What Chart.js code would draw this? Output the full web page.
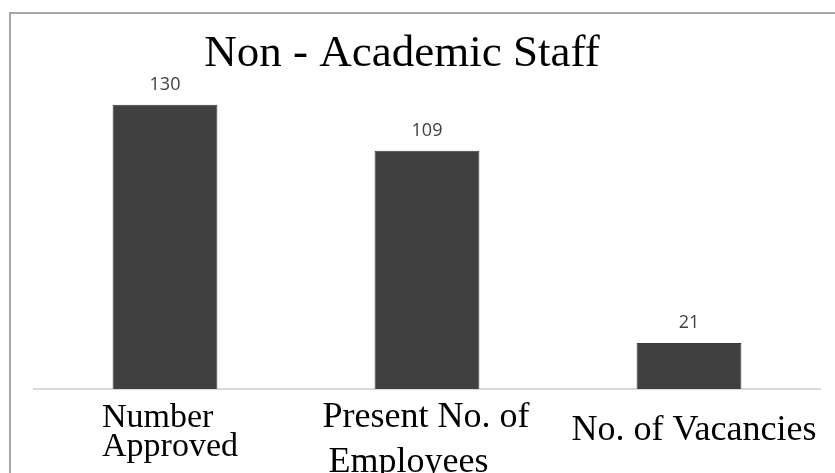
<!DOCTYPE html>
<html>
<head>
<meta charset="utf-8">
<script src="https://cdn.jsdelivr.net/npm/chart.js@4"></script>
<style>
  html, body { margin: 0; padding: 0; background: #fff; }
  #wrap { position: relative; width: 835px; height: 473px; overflow: hidden; }
  #frame {
    position: absolute; left: 9px; top: 12px; width: 900px; height: 500px;
    border-left: 2px solid #a6a6a6; border-top: 2px solid #a6a6a6;
  }
  canvas { position: absolute; left: 0; top: 0; }
</style>
</head>
<body>
<div id="wrap">
  <div id="frame"></div>
  <canvas id="barChart" width="835" height="473"></canvas>
</div>
<script>
const chartTitle = "Non - Academic Staff";
const categories = [["Number", "Approved"], ["Present No. of", "Employees"], ["No. of Vacancies"]];
const staffCounts = [130, 109, 21];
const yMax = 140;

// draws title, value labels and the category labels (left aligned lines, like the original)
const textPlugin = {
  id: "textPlugin",
  afterDatasetsDraw(chart) {
    const ctx = chart.ctx;
    const xScale = chart.scales.x;
    const meta = chart.getDatasetMeta(0);
    ctx.save();

    ctx.fillStyle = "#000";
    ctx.font = "45px 'Liberation Serif'";
    ctx.textAlign = "center";
    ctx.textBaseline = "alphabetic";
    ctx.fillText(chartTitle, 402, 66);

    ctx.font = "18px 'Open Sans'";
    ctx.fillStyle = "#404040";
    meta.data.forEach((bar, i) => {
      ctx.fillText(String(staffCounts[i]), bar.x, bar.y - 15);
    });

    const lineGap = [29, 45];
    const fontSize = [34, 36, 36];
    const shift = [5, -1, 5];
    ctx.fillStyle = "#000";
    ctx.textAlign = "left";
    categories.forEach((lines, i) => {
      ctx.font = fontSize[i] + "px 'Liberation Serif'";
      const cx = xScale.getPixelForTick(i) + shift[i];
      const w = Math.max(...lines.map(l => ctx.measureText(l).width));
      const left = cx - w / 2;
      let y = lines.length > 1 ? 427 : 440;
      lines.forEach((line, j) => {
        const off = (i === 1 && j === 1) ? 6 : 0;
        ctx.fillText(line, left + off, y);
        y += lineGap[i] || 30;
      });
    });
    ctx.restore();
  }
};

new Chart(document.getElementById("barChart"), {
  type: "bar",
  data: {
    labels: categories,
    datasets: [{
      data: staffCounts,
      backgroundColor: "#404040",
      borderColor: "#3a3a3a",
      borderWidth: 1,
      barPercentage: 0.4,
      categoryPercentage: 1
    }]
  },
  options: {
    responsive: false,
    animation: false,
    devicePixelRatio: 1,
    layout: { padding: { left: 34, right: 15, top: 83, bottom: 76 } },
    plugins: { legend: { display: false }, title: { display: false }, tooltip: { enabled: false } },
    scales: {
      x: {
        grid: { display: false },
        ticks: { display: false },
        border: { display: true, color: "#d9d9d9", width: 2 }
      },
      y: { display: false, min: 0, max: yMax }
    }
  },
  plugins: [textPlugin]
});
</script>
</body>
</html>
